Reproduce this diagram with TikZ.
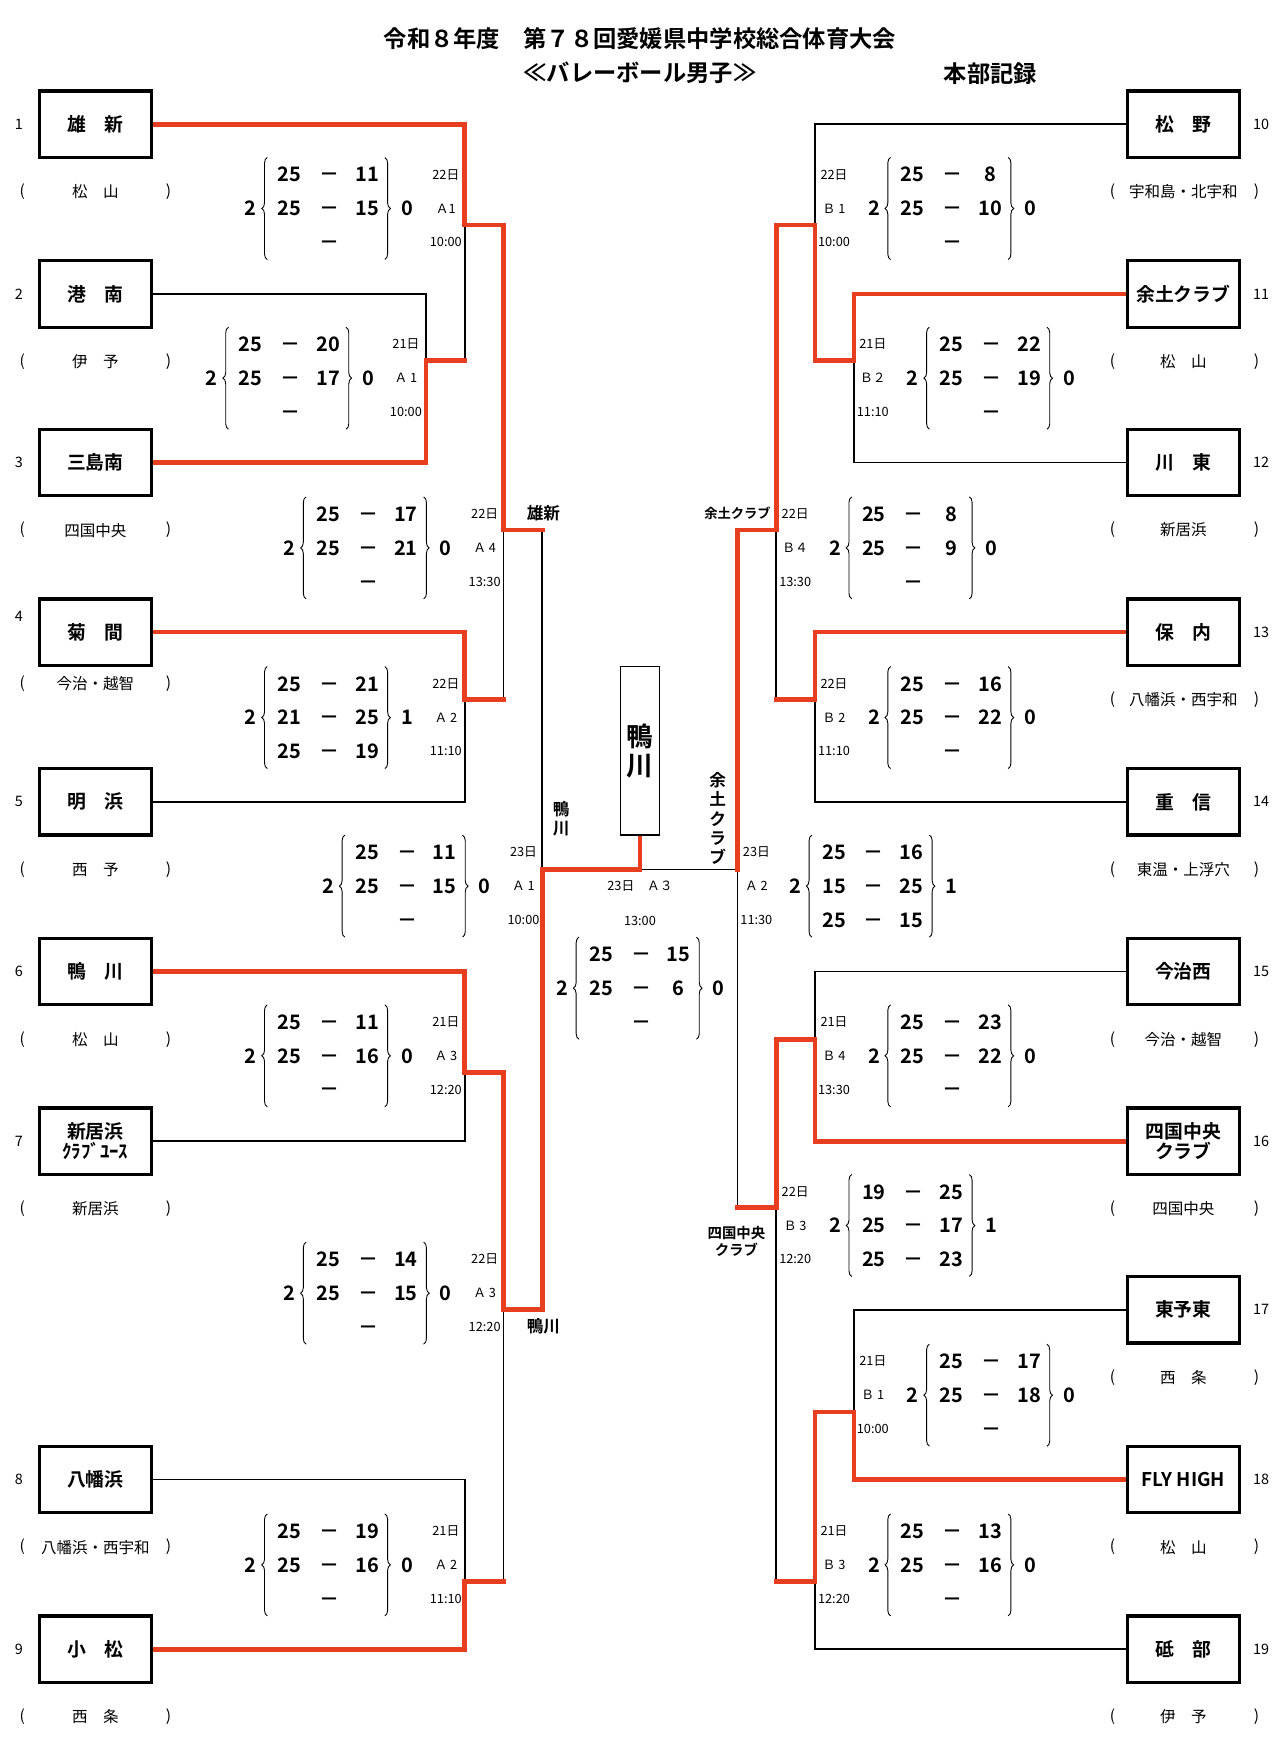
\documentclass[tikz,border=0pt]{standalone}
\usepackage{fontspec}
\setmainfont{Noto Sans CJK JP}[BoldFont={Noto Sans CJK JP Bold}]
\usetikzlibrary{decorations.pathreplacing,backgrounds}
\definecolor{winred}{RGB}{232,62,32}

% set scores: name, x of left count, y of middle row, left count, right count, rows a/b
\newcommand{\scoreset}[6]{%
  \node[setno] (#1-l) at (#2,#3) {#4};
  \draw[brc] (#2+15,#3+46) -- (#2+15,#3-46);
  \draw[brc] (#2+121,#3-46) -- (#2+121,#3+46);
  \node[setno] (#1-r) at (#2+141,#3) {#5};
  \foreach \a/\b [count=\i] in {#6} {
    \node[pts] (#1-a\i) at (#2+35,#3+\i*30.5-54.4) {\a};
    \node[pts] (#1-d\i) at (#2+71,#3+\i*30.5-54.4) {－};
    \node[pts] (#1-b\i) at (#2+105,#3+\i*30.5-54.4) {\b};
  }%
}
% day / court / time column
\newcommand{\matchinfo}[6]{%
  \node[info] (#1-day) at (#2,#3-30.5) {#4};
  \node[info] (#1-crt) at (#2,#3) {#5};
  \node[info] (#1-tm) at (#2,#3+30.5) {#6};
}

\begin{document}
\begin{tikzpicture}[x=1pt, y=-1pt,
  team/.style={draw, line width=3pt, minimum width=101pt, minimum height=60pt, inner sep=1pt, align=center, font=\fontsize{17}{18.5}\selectfont\bfseries},
  area/.style={font=\fontsize{14}{16}\selectfont, inner sep=0pt},
  num/.style={font=\fontsize{13}{15}\selectfont, inner sep=0pt},
  ttl/.style={font=\fontsize{21}{23}\selectfont\bfseries, inner sep=0pt},
  setno/.style={font=\fontsize{18}{20}\selectfont\bfseries, inner sep=0pt},
  pts/.style={font=\fontsize{18}{20}\selectfont\bfseries, inner sep=0pt, anchor=base},
  info/.style={font=\fontsize{11.5}{13}\selectfont, inner sep=0pt},
  adv/.style={font=\fontsize{15}{17.5}\selectfont\bfseries, align=center, inner sep=0pt},
  champ/.style={draw, line width=1.5pt, minimum width=35pt, minimum height=152pt, align=center, inner sep=0pt, font=\fontsize{24}{26}\selectfont\bfseries},
  brc/.style={decorate, decoration={brace, amplitude=5pt}, line width=0.8pt},
  bline/.style={line width=1.6pt, line cap=rect},
  win/.style={line width=4.2pt, draw=winred, line cap=rect}
]
\useasboundingbox (0,0) rectangle (1157,1568);

% heading
\node[ttl] (title) at (577,35) {令和８年度　第７８回愛媛県中学校総合体育大会};
\node[ttl] (sub) at (577,66) {≪バレーボール男子≫};
\node[ttl] (rec) at (893,66) {本部記録};

% left teams
\foreach \n/\y/\t/\a in {1/112/{雄　新}/{松　山}, 2/265/{港　南}/{伊　予}, 3/417/{三島南}/{四国中央},
    5/723/{明　浜}/{西　予}, 6/876/{鴨　川}/{松　山}, 7/1029/{新居浜\\ｸﾗﾌﾞﾕｰｽ}/{新居浜},
    8/1334/{八幡浜}/{八幡浜・西宇和}, 9/1487/{小　松}/{西　条}} {
  \node[team] (n\n) at (86,\y) {\t};
  \node[num] (no\n) at (17,\y) {\n};
  \node[area] (ar\n) at (86,\y+61) {\a};
  \node[area] (po\n) at (20,\y+61) {(};
  \node[area] (pc\n) at (152,\y+61) {)};
}
\node[team] (n4) at (86,570) {菊　間};
\node[num] (no4) at (17,556) {4};
\node[area] (ar4) at (86,616) {今治・越智};
\node[area] (po4) at (20,616) {(};
\node[area] (pc4) at (152,616) {)};

% right teams
\foreach \n/\y/\t/\a in {10/112/{松　野}/{宇和島・北宇和}, 11/265/{余土クラブ}/{松　山}, 12/417/{川　東}/{新居浜},
    13/570/{保　内}/{八幡浜・西宇和}, 14/723/{重　信}/{東温・上浮穴}, 15/876/{今治西}/{今治・越智},
    16/1029/{四国中央\\クラブ}/{四国中央}, 17/1181/{東予東}/{西　条}, 18/1334/{FLY HIGH}/{松　山},
    19/1487/{砥　部}/{伊　予}} {
  \node[team] (n\n) at (1067,\y) {\t};
  \node[num] (no\n) at (1137,\y) {\n};
  \node[area] (ar\n) at (1067,\y+61) {\a};
  \node[area] (po\n) at (1003,\y+61) {(};
  \node[area] (pc\n) at (1133,\y+61) {)};
}

% champion
\node[champ] (champ) at (577,677) {鴨\\川};

% winners written on the bracket
\node[adv] (w1) at (490,463) {雄新};
\node[adv] (w2) at (490,1196) {鴨川};
\node[adv] (w3) at (506,738) {鴨\\川};
\node[adv, font=\fontsize{12}{14}\selectfont\bfseries] (w4) at (665,463) {余土クラブ};
\node[adv] (w5) at (647,738) {余\\土\\ク\\ラ\\ブ};
\node[adv, font=\fontsize{13}{15}\selectfont\bfseries] (w6) at (664,1119) {四国中央\\クラブ};

% left block scores
\scoreset{la1}{226}{188}{2}{0}{25/11,25/15,{}/{}}
\matchinfo{la1}{402}{188}{22日}{Ａ1}{10:00}
\scoreset{la2}{191}{341}{2}{0}{25/20,25/17,{}/{}}
\matchinfo{la2}{366}{341}{21日}{Ａ 1}{10:00}
\scoreset{la3}{261}{494}{2}{0}{25/17,25/21,{}/{}}
\matchinfo{la3}{437}{494}{22日}{Ａ 4}{13:30}
\scoreset{la4}{226}{647}{2}{1}{25/21,21/25,25/19}
\matchinfo{la4}{402}{647}{22日}{Ａ 2}{11:10}
\scoreset{la5}{296}{799}{2}{0}{25/11,25/15,{}/{}}
\matchinfo{la5}{472}{799}{23日}{Ａ 1}{10:00}
\scoreset{la6}{226}{952}{2}{0}{25/11,25/16,{}/{}}
\matchinfo{la6}{402}{952}{21日}{Ａ 3}{12:20}
\scoreset{la7}{261}{1166}{2}{0}{25/14,25/15,{}/{}}
\matchinfo{la7}{437}{1166}{22日}{Ａ 3}{12:20}
\scoreset{la8}{226}{1411}{2}{0}{25/19,25/16,{}/{}}
\matchinfo{la8}{402}{1411}{21日}{Ａ 2}{11:10}

% final
\scoreset{fin}{507}{891}{2}{0}{25/15,25/6,{}/{}}
\node[info] (fin-day) at (577,799) {23日　Ａ３};
\node[info] (fin-tm) at (577,830) {13:00};

% right block scores
\scoreset{rb1}{788}{188}{2}{0}{25/8,25/10,{}/{}}
\matchinfo{rb1}{752}{188}{22日}{Ｂ 1}{10:00}
\scoreset{rb2}{823}{341}{2}{0}{25/22,25/19,{}/{}}
\matchinfo{rb2}{787}{341}{21日}{Ｂ２}{11:10}
\scoreset{rb3}{753}{494}{2}{0}{25/8,25/9,{}/{}}
\matchinfo{rb3}{717}{494}{22日}{Ｂ４}{13:30}
\scoreset{rb4}{788}{647}{2}{0}{25/16,25/22,{}/{}}
\matchinfo{rb4}{752}{647}{22日}{Ｂ 2}{11:10}
\scoreset{rb5}{717}{799}{2}{1}{25/16,15/25,25/15}
\matchinfo{rb5}{682}{799}{23日}{Ａ 2}{11:30}
\scoreset{rb6}{788}{952}{2}{0}{25/23,25/22,{}/{}}
\matchinfo{rb6}{752}{952}{21日}{Ｂ 4}{13:30}
\scoreset{rb7}{753}{1105}{2}{1}{19/25,25/17,25/23}
\matchinfo{rb7}{717}{1105}{22日}{Ｂ 3}{12:20}
\scoreset{rb8}{823}{1258}{2}{0}{25/17,25/18,{}/{}}
\matchinfo{rb8}{787}{1258}{21日}{Ｂ 1}{10:00}
\scoreset{rb9}{788}{1411}{2}{0}{25/13,25/16,{}/{}}
\matchinfo{rb9}{752}{1411}{21日}{Ｂ 3}{12:20}

% bracket junctions
\coordinate (p1) at (419,325);
\coordinate (p2) at (384,325);
\coordinate (q1) at (419,203);  \coordinate (q1r) at (454,203);
\coordinate (q2) at (419,631);  \coordinate (q2r) at (454,631);
\coordinate (q3) at (454,478);  \coordinate (q3r) at (489,478);
\coordinate (q4) at (419,967);  \coordinate (q4r) at (454,967);
\coordinate (q5) at (419,1426); \coordinate (q5r) at (454,1426);
\coordinate (q6) at (454,1181); \coordinate (q6r) at (489,1181);
\coordinate (q7) at (489,784);
\coordinate (f) at (577,784);
\coordinate (r1) at (735,203);  \coordinate (r1l) at (700,203);
\coordinate (r2) at (770,325);  \coordinate (r2l) at (735,325);
\coordinate (r3) at (700,478);  \coordinate (r3l) at (665,478);
\coordinate (r4) at (735,631);  \coordinate (r4l) at (700,631);
\coordinate (r5) at (665,784);
\coordinate (r6) at (735,937);  \coordinate (r6l) at (700,937);
\coordinate (r7) at (770,1273); \coordinate (r7l) at (735,1273);
\coordinate (r8) at (735,1426); \coordinate (r8l) at (700,1426);
\coordinate (r9) at (700,1089); \coordinate (r9l) at (665,1089);

\begin{scope}[on background layer]
  % losing lines
  \draw[bline] (n2.east) -| (p2);
  \draw[bline] (q1) -- (p1);
  \draw[bline] (n5.east) -| (q2);
  \draw[bline] (q3) -- (q2r);
  \draw[bline] (n7.east) -| (q4);
  \draw[bline] (n8.east) -| (q5);
  \draw[bline] (q6) -- (q5r);
  \draw[bline] (q3r) -- (q7);
  \draw[bline] (f) -- (r5);
  \draw[bline] (n10.west) -| (r1);
  \draw[bline] (n12.west) -| (r2);
  \draw[bline] (r3) -- (r4l);
  \draw[bline] (n14.west) -| (r4);
  \draw[bline] (r5) -- (r9l);
  \draw[bline] (n15.west) -| (r6);
  \draw[bline] (n17.west) -| (r7);
  \draw[bline] (n19.west) -| (r8);
  \draw[bline] (r9) -- (r8l);
  % winning lines
  \draw[win] (n1.east) -| (q1) -- (q1r) |- (q3r);
  \draw[win] (n3.east) -| (p2) -- (p1);
  \draw[win] (n4.east) -| (q2) -- (q2r);
  \draw[win] (n6.east) -| (q4) -- (q4r) |- (q6r) -- (q7) -- (f) -- (champ.south);
  \draw[win] (n9.east) -| (q5) -- (q5r);
  \draw[win] (n11.west) -| (r2) -- (r2l) |- (r1l) |- (r3l) -- (r5);
  \draw[win] (n13.west) -| (r4) -- (r4l);
  \draw[win] (n16.west) -| (r6) -- (r6l) |- (r9l);
  \draw[win] (n18.west) -| (r7) -- (r7l) |- (r8l);
\end{scope}
\end{tikzpicture}
\end{document}
